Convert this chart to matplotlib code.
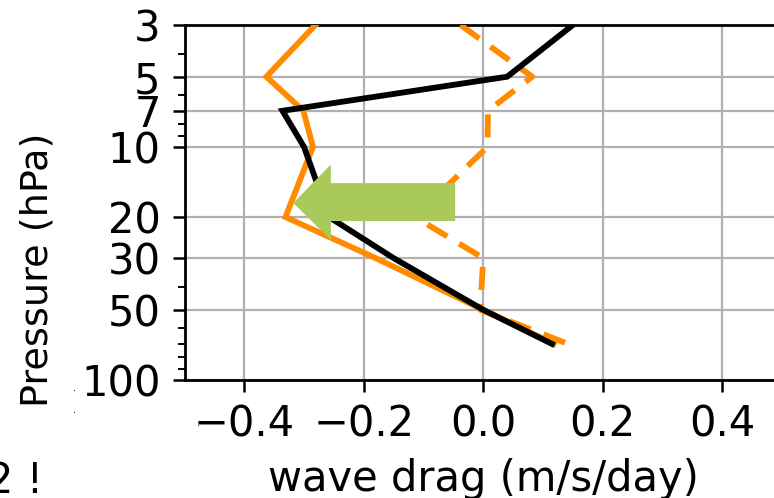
import numpy as np
import matplotlib
matplotlib.use("Agg")
import matplotlib.pyplot as plt
from matplotlib.patches import Polygon
from matplotlib.ticker import FixedLocator, LogLocator, NullFormatter

# ---- data ----
pressure = [3, 5, 7, 10, 20, 30, 50, 70]
orange_solid = [-0.281, -0.363, -0.301, -0.285, -0.331, -0.180, 0.000, 0.118]
orange_dashed = [-0.038, 0.082, 0.008, 0.007, -0.114, 0.000, -0.005, 0.142]
black_solid = [0.150, 0.040, -0.336, -0.300, -0.258, -0.150, 0.000, 0.115]

yticks = [3, 5, 7, 10, 20, 30, 50, 100]
ytick_labels = ["3", "5", "7", "10", "20", "30", "50", "100"]
xticks = [-0.4, -0.2, 0.0, 0.2, 0.4]

# arrow (x in m/s/day, y in hPa)
arrow_tail_x = -0.047
arrow_head_base_x = -0.255
arrow_tip_x = -0.318
arrow_shaft_p = (14.3, 20.8)
arrow_head_p = (11.9, 25.1)
arrow_tip_p = 17.4

W, H = 774, 498
fig = plt.figure(figsize=(W / 100, H / 100), dpi=100)
ax = fig.add_axes([184.5 / W, (H - 380) / H, 597.5 / W, 355 / H])

lw = 4.2
ax.plot(orange_solid, pressure, color="#ff8c00", lw=lw, solid_joinstyle="miter", zorder=3)
ax.plot(orange_dashed, pressure, color="#ff8c00", lw=lw, dashes=(16.6 / lw, 10 / lw), zorder=3)
ax.plot(black_solid, pressure, color="black", lw=lw, solid_joinstyle="miter", zorder=4)

verts = [
    (arrow_tail_x, arrow_shaft_p[0]),
    (arrow_head_base_x, arrow_shaft_p[0]),
    (arrow_head_base_x, arrow_head_p[0]),
    (arrow_tip_x, arrow_tip_p),
    (arrow_head_base_x, arrow_head_p[1]),
    (arrow_head_base_x, arrow_shaft_p[1]),
    (arrow_tail_x, arrow_shaft_p[1]),
]
ax.add_patch(Polygon(verts, closed=True, facecolor="#a9ca5b", edgecolor="none", zorder=5))

ax.set_yscale("log")
ax.set_ylim(100, 3)
ax.set_xlim(-0.5, 0.5)
ax.yaxis.set_major_locator(FixedLocator(yticks))
ax.set_yticklabels(ytick_labels)
ax.yaxis.set_minor_locator(LogLocator(base=10, subs=np.arange(2, 10)))
ax.yaxis.set_minor_formatter(NullFormatter())
ax.set_xticks(xticks)

ax.grid(True, which="major", color="#b0b0b0", lw=1.6, zorder=0)
ax.set_axisbelow(True)
for s in ax.spines.values():
    s.set_linewidth(2.0)
ax.tick_params(which="major", length=8.6, width=1.8, pad=8.6, labelsize=30)
ax.tick_params(which="minor", length=5.0, width=1.4)

ax.set_xlabel("wave drag (m/s/day)", fontsize=30, labelpad=9)
fig.text(38 / W, 1 - 270 / H, "Pressure (hPa)", rotation=90, fontsize=27.5,
         ha="center", va="center")

fig.text(-13 / W, 5 / H, "2 !", fontsize=30, ha="left", va="baseline")
fig.text(75 / W, 1 - 388 / H, ".", fontsize=7, ha="center", va="center")
fig.text(75 / W, 1 - 410 / H, ".", fontsize=7, ha="center", va="center")
fig.text(199 / W, 1 - 423 / H, ".", fontsize=7, ha="center", va="center")

fig.savefig("out.png", dpi=100)
